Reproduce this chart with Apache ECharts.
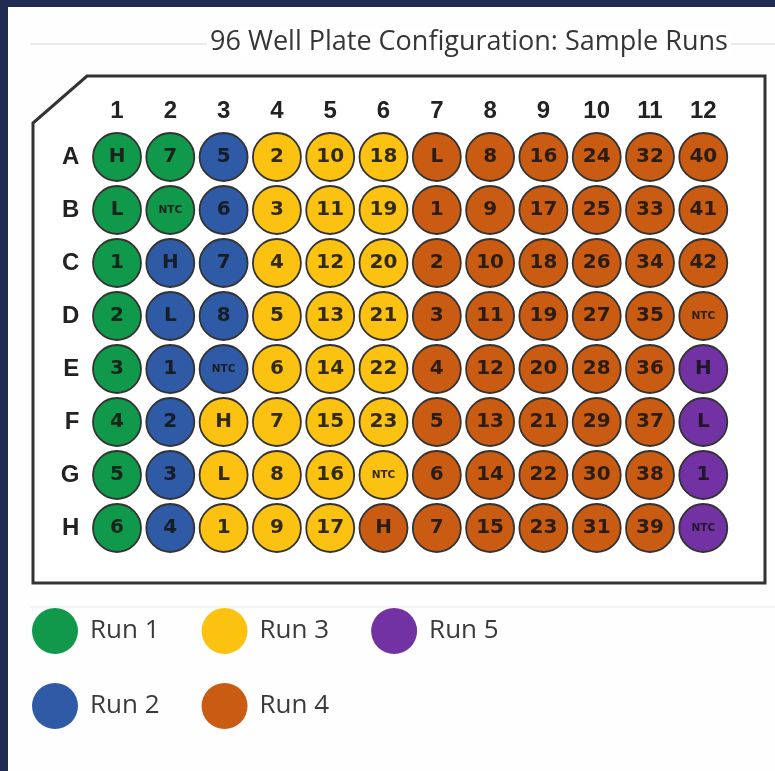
<!DOCTYPE html>
<html><head><meta charset="utf-8">
<script src="https://cdn.jsdelivr.net/npm/echarts@6/dist/echarts.min.js"></script>
<style>html,body{margin:0;padding:0;background:#1f2b50}#c{width:775px;height:771px}</style>
</head><body><div id="c"></div>
<script>
// ---- data ----
const columns = ['1','2','3','4','5','6','7','8','9','10','11','12'];
const rows = ['A','B','C','D','E','F','G','H'];
const runNames = ['Run 1','Run 2','Run 3','Run 4','Run 5'];
const runColors = ['#10994a','#2f5aa6','#fcc212','#c95c12','#7232a3'];
const wellLabels = [
  ['H','7','5','2','10','18','L','8','16','24','32','40'],
  ['L','NTC','6','3','11','19','1','9','17','25','33','41'],
  ['1','H','7','4','12','20','2','10','18','26','34','42'],
  ['2','L','8','5','13','21','3','11','19','27','35','NTC'],
  ['3','1','NTC','6','14','22','4','12','20','28','36','H'],
  ['4','2','H','7','15','23','5','13','21','29','37','L'],
  ['5','3','L','8','16','NTC','6','14','22','30','38','1'],
  ['6','4','1','9','17','H','7','15','23','31','39','NTC']
];
const wellRuns = [
  [1,1,2,3,3,3,4,4,4,4,4,4],
  [1,1,2,3,3,3,4,4,4,4,4,4],
  [1,2,2,3,3,3,4,4,4,4,4,4],
  [1,2,2,3,3,3,4,4,4,4,4,4],
  [1,2,2,3,3,3,4,4,4,4,4,5],
  [1,2,3,3,3,3,4,4,4,4,4,5],
  [1,2,3,3,3,3,4,4,4,4,4,5],
  [1,2,3,3,3,4,4,4,4,4,4,5]
];
const titleText = '96 Well Plate Configuration: Sample Runs';

// ---- chart ----
const chart = echarts.init(document.getElementById('c'), null, {renderer:'canvas'});
const series = runNames.map((name, k) => {
  const data = [];
  wellRuns.forEach((row, r) => row.forEach((run, c) => {
    if (run === k + 1) {
      const lab = wellLabels[r][c];
      data.push({value:[c, r], name: lab,
        label: lab === 'NTC' ? {fontSize: 10.5} : {}});
    }
  }));
  return {
    type:'scatter', name, data, symbol:'circle', symbolSize:48,
    itemStyle:{color: runColors[k], borderColor:'#333333', borderWidth:1.8, opacity:1},
    label:{show:true, position:'inside', formatter:'{b}', color:'rgba(20,20,20,0.88)',
      fontFamily:'DejaVu Sans', fontWeight:'bold', fontSize:20},
    emphasis:{disabled:true}
  };
});
const legendCommon = {
  left:27, itemWidth:46, itemHeight:46, itemGap:42, icon:'circle',
  itemStyle:{borderWidth:0},
  textStyle:{fontFamily:'Open Sans', fontSize:26, color:'#3a3a3a', padding:[0,0,0,7]}
};
chart.setOption({
  backgroundColor:'#1f2b50',
  animation:false,
  title:{text:titleText, left:466, textAlign:'center', top:29,
    backgroundColor:'#ffffff', padding:[0,3],
    textStyle:{fontFamily:'Open Sans', fontSize:27, fontWeight:'normal', color:'#363636'}},
  graphic:[
    {type:'rect', shape:{x:8, y:7, width:767, height:764}, style:{fill:'#fefefe'}, z:-10},
    {type:'line', shape:{x1:30, y1:44, x2:775, y2:44}, style:{stroke:'#d9d9d9', lineWidth:1}, z:-5},
    {type:'line', shape:{x1:30, y1:607, x2:775, y2:607}, style:{stroke:'#ececec', lineWidth:1}, z:-5},
    {type:'polygon', shape:{points:[[87,76],[765,76],[765,583],[33,583],[33,123]]},
      style:{fill:'#ffffff', stroke:'#333333', lineWidth:3}, z:-4}
  ],
  legend:[
    Object.assign({top:603, data:[runNames[0], runNames[2], runNames[4]]}, legendCommon),
    Object.assign({top:678, data:[runNames[1], runNames[3]]}, legendCommon)
  ],
  grid:{left:90.35, top:130.5, width:639.6, height:424},
  xAxis:{type:'category', data:columns, position:'top',
    axisLine:{show:false}, axisTick:{show:false}, splitLine:{show:false},
    axisLabel:{margin:7, color:'#222', fontFamily:'Liberation Sans', fontWeight:'bold', fontSize:24}},
  yAxis:{type:'category', data:rows, inverse:true,
    axisLine:{show:false}, axisTick:{show:false}, splitLine:{show:false},
    axisLabel:{margin:11, color:'#222', fontFamily:'Liberation Sans', fontWeight:'bold', fontSize:24}},
  series
});
</script></body></html>
